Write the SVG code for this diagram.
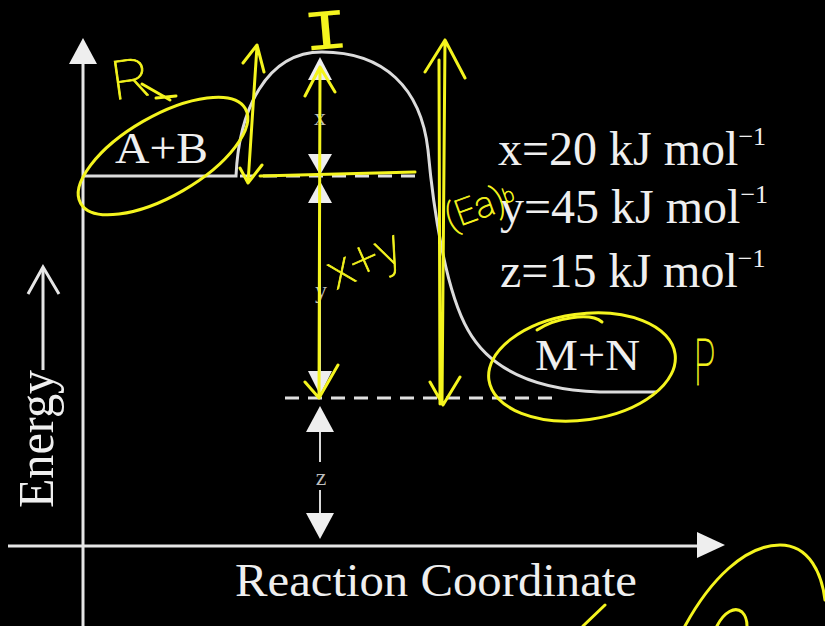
<svg xmlns="http://www.w3.org/2000/svg" width="825" height="626" viewBox="0 0 825 626">
<style>
.ax{stroke:#e6e6e6;stroke-width:3;fill:none}
.ah{fill:#eeeeee;stroke:none}
.crv{stroke:#dcdcdc;stroke-width:3;fill:none}
.dash{stroke:#e0e0e0;stroke-width:3;fill:none;stroke-dasharray:14 9}
.dim{stroke:#d8d8d8;stroke-width:2;fill:none}
.t{font-family:"Liberation Serif","Times New Roman",serif;fill:#efefef}
.lbl{font-family:"Liberation Serif","Times New Roman",serif;fill:#bdbdbd;font-size:24px;text-anchor:middle}
.y{stroke:#f4f41e;stroke-width:3;fill:none;stroke-linecap:round;stroke-linejoin:round}
.yt{font-family:Roboto,"Open Sans",sans-serif;font-weight:100;fill:#f4f41e;stroke:#f4f41e;stroke-width:0.8}
.ym{font-family:"Liberation Mono","Courier New",monospace;font-weight:400;fill:#f4f41e}
</style>
<rect width="825" height="626" fill="#000"/>

<g id="axes">
  <line class="ax" x1="83" y1="58" x2="83" y2="626"/>
  <polygon class="ah" points="83,38 69,64 97,64"/>
  <line class="ax" x1="8" y1="546" x2="702" y2="546"/>
  <polygon class="ah" points="725,545 697,532 697,558"/>
  <g id="energy-label">
    <text class="t" font-size="50" textLength="138" lengthAdjust="spacingAndGlyphs" transform="translate(53,508) rotate(-90)">Energy</text>
    <line class="ax" x1="43" y1="370" x2="43" y2="268" stroke-width="2.5"/>
    <polyline class="ax" stroke-width="2.5" points="28,294 43,267 59,294"/>
  </g>
  <text id="xlabel" class="t" x="235" y="596" font-size="46" textLength="402" lengthAdjust="spacingAndGlyphs">Reaction Coordinate</text>
</g>

<g id="curve">
  <path class="crv" d="M83,176 H236 C239,110 266,52 322,52 C384,52 421,88 428,150 C433,205 445,290 468,330 C492,373 540,390 600,392 H657"/>
  <line class="dash" x1="240" y1="176" x2="420" y2="176"/>
  <line class="dash" x1="285" y1="398" x2="552" y2="398"/>
</g>

<g id="dimensions">
  <line class="dim" x1="320" y1="75" x2="320" y2="158"/>
  <polygon class="ah" points="320,57 308,80 332,80"/>
  <polygon class="ah" points="320,175 308,154 332,154"/>
  <text class="lbl" x="320" y="125">x</text>
  <line class="dim" x1="320" y1="200" x2="320" y2="372"/>
  <polygon class="ah" points="320,181 308,203 332,203"/>
  <polygon class="ah" points="320,395 308,371 332,371"/>
  <text class="lbl" x="321" y="298">y</text>
  <line class="dim" x1="320" y1="430" x2="320" y2="462"/>
  <line class="dim" x1="320" y1="490" x2="320" y2="516"/>
  <polygon class="ah" points="320,406 306,432 334,432"/>
  <polygon class="ah" points="320,539 306,513 334,513"/>
  <text class="lbl" x="321" y="485">z</text>
</g>

<g id="reactants">
  <text class="t" x="115" y="163" font-size="44" textLength="93" lengthAdjust="spacingAndGlyphs">A+B</text>
</g>
<g id="products">
  <text class="t" x="535" y="370" font-size="45" textLength="105" lengthAdjust="spacingAndGlyphs">M+N</text>
</g>

<g id="values" class="t" font-size="48">
  <text x="498" y="165">x=20 kJ mol<tspan font-size="26" dy="-20">−1</tspan></text>
  <text x="500" y="223">y=45 kJ mol<tspan font-size="26" dy="-20">−1</tspan></text>
  <text x="500" y="287">z=15 kJ mol<tspan font-size="26" dy="-20">−1</tspan></text>
</g>

<g id="annotations">
  <ellipse class="y" cx="163" cy="156" rx="95" ry="40" transform="rotate(-30 163 156)"/>
  <path class="y" d="M142,84 L170,100 M156,98 L176,96"/>
  <text class="yt" x="0" y="0" font-size="54" transform="translate(114,100) rotate(-8) scale(1.1,1)">R</text>
  <text class="ym" x="0" y="0" font-size="52" transform="translate(304,51) rotate(-5) scale(1.5,1.1)">I</text>
  <path class="y" d="M257,46 L248,183 M243,63 L257,45 L264,72 M240,168 L248,183 L262,165"/>
  <path class="y" d="M260,176 L415,172"/>
  <path class="y" d="M320,67 L319,398 M305,96 L320,67 L335,92 M305,382 L319,398 L338,365"/>
  <text class="yt" x="0" y="0" font-size="50" transform="translate(336,290) rotate(-24)">x+y</text>
  <path class="y" d="M445,40 L442,404 M439,60 L440,404 M425,72 L445,40 L465,78 M430,382 L443,405 L460,377"/>
  <text class="yt" x="0" y="0" font-size="36" transform="translate(450,230) rotate(-20)">(Ea)<tspan font-size="20" dy="-6">b</tspan></text>
  <ellipse class="y" cx="582" cy="367" rx="94" ry="53" transform="rotate(-8 582 367)"/>
  <path class="y" d="M537,330 C555,318 590,312 602,322"/>
  <text class="yt" x="0" y="0" font-size="64" transform="translate(694,385) scale(0.55,1)">P</text>
  <path class="y" d="M685,626 C710,580 745,545 780,545 C810,545 822,575 825,600"/>
  <path class="y" d="M717,626 C724,612 735,606 742,612 C746,616 747,622 747,626"/>
  <path class="y" d="M605,605 L583,626"/>
</g>
</svg>
